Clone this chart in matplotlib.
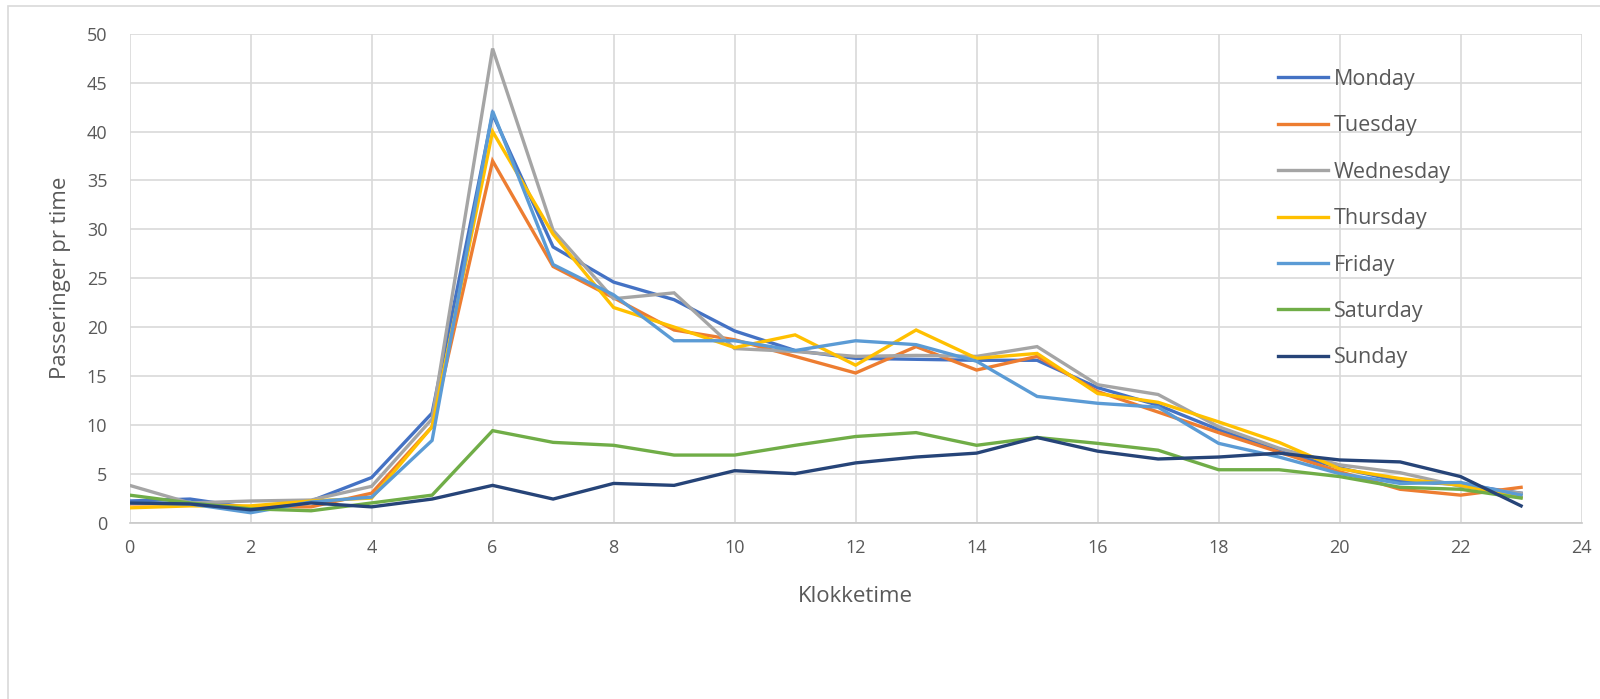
import matplotlib
matplotlib.use("Agg")
import matplotlib.pyplot as plt
from matplotlib.patches import Rectangle

# Hourly passages per weekday
hours = list(range(24))
monday = [2.2, 2.4, 1.5, 2.2, 4.6, 11.2, 41.8, 28.2, 24.6, 22.8, 19.6, 17.6,
          16.8, 16.7, 16.6, 16.6, 13.8, 12.0, 9.5, 7.3, 5.6, 4.2, 3.9, 3.0]
tuesday = [1.9, 1.9, 1.6, 1.6, 3.0, 9.8, 37.0, 26.2, 23.0, 19.7, 18.7, 17.0,
           15.3, 18.0, 15.6, 17.0, 13.4, 11.3, 9.2, 7.2, 5.2, 3.4, 2.8, 3.6]
wednesday = [3.8, 2.0, 2.2, 2.3, 3.7, 10.6, 48.5, 29.9, 22.9, 23.5, 17.8, 17.5,
             17.0, 17.1, 17.0, 18.0, 14.1, 13.1, 9.8, 7.6, 5.9, 5.1, 3.7, 3.0]
thursday = [1.5, 1.7, 1.7, 2.2, 2.5, 9.8, 40.0, 29.5, 22.0, 20.0, 17.9, 19.2,
            16.1, 19.7, 16.8, 17.3, 13.2, 12.3, 10.3, 8.2, 5.5, 4.5, 3.8, 2.6]
friday = [2.0, 1.9, 1.0, 2.1, 2.6, 8.4, 42.1, 26.4, 23.3, 18.6, 18.6, 17.6,
          18.6, 18.2, 16.5, 12.9, 12.2, 11.8, 8.1, 6.7, 5.0, 4.0, 4.1, 2.8]
saturday = [2.8, 2.0, 1.4, 1.2, 2.0, 2.8, 9.4, 8.2, 7.9, 6.9, 6.9, 7.9,
            8.8, 9.2, 7.9, 8.7, 8.1, 7.4, 5.4, 5.4, 4.7, 3.6, 3.4, 2.5]
sunday = [2.0, 1.9, 1.3, 2.0, 1.6, 2.4, 3.8, 2.4, 4.0, 3.8, 5.3, 5.0,
          6.1, 6.7, 7.1, 8.7, 7.3, 6.5, 6.7, 7.1, 6.4, 6.2, 4.7, 1.7]

day_names = ["Monday", "Tuesday", "Wednesday", "Thursday", "Friday",
             "Saturday", "Sunday"]
day_colors = ["#4472C4", "#ED7D31", "#A5A5A5", "#FFC000", "#5B9BD5",
              "#70AD47", "#264478"]
series = [monday, tuesday, wednesday, thursday, friday, saturday, sunday]

x_ticks = list(range(0, 25, 2))
y_ticks = list(range(0, 51, 5))

text_color = "#595959"
grid_color = "#D9D9D9"
plt.rcParams["font.family"] = ["Open Sans", "DejaVu Sans"]

fig = plt.figure(figsize=(16, 6.99), dpi=100)
ax = fig.add_axes([0.081, 0.2525, 0.9075, 0.699])

# outer chart frame
fig.add_artist(Rectangle((8 / 1600, -0.1), 1.2, 1 - 5.7 / 699 + 0.1,
                         transform=fig.transFigure, fill=False,
                         edgecolor=grid_color, linewidth=1.2))

for name, color, vals in zip(day_names, day_colors, series):
    ax.plot(hours, vals, color=color, linewidth=2.4, label=name,
            solid_joinstyle="miter")

ax.set_xlim(0, 24)
ax.set_ylim(0, 50)
ax.set_xticks(x_ticks)
ax.set_yticks(y_ticks)
ax.grid(True, color=grid_color, linewidth=1.2)
ax.set_axisbelow(True)
for side in ["top", "right", "left"]:
    ax.spines[side].set_visible(False)
ax.spines["bottom"].set_color("#C8C8C8")
ax.spines["bottom"].set_linewidth(1.2)
ax.tick_params(axis="both", length=0, labelsize=13, labelcolor=text_color)
ax.tick_params(axis="x", pad=12)
ax.tick_params(axis="y", pad=16)

ax.set_xlabel("Klokketime", fontsize=16, color=text_color)
ax.xaxis.set_label_coords(0.5, -0.152)
ax.xaxis.label.set_va("center")
ax.set_ylabel("Passeringer pr time", fontsize=16, color=text_color)
ax.yaxis.set_label_coords(-0.0477, 0.5)
ax.yaxis.label.set_va("center")

leg = ax.legend(loc="upper left", bbox_to_anchor=(1278 / 1600, 1 - 69 / 699),
                bbox_transform=fig.transFigure, frameon=False, fontsize=15.5,
                labelspacing=1.18, handlelength=2.3, handletextpad=0.28,
                borderpad=0, borderaxespad=0)
for t in leg.get_texts():
    t.set_color(text_color)

fig.savefig("out.png", dpi=100, facecolor="white")
